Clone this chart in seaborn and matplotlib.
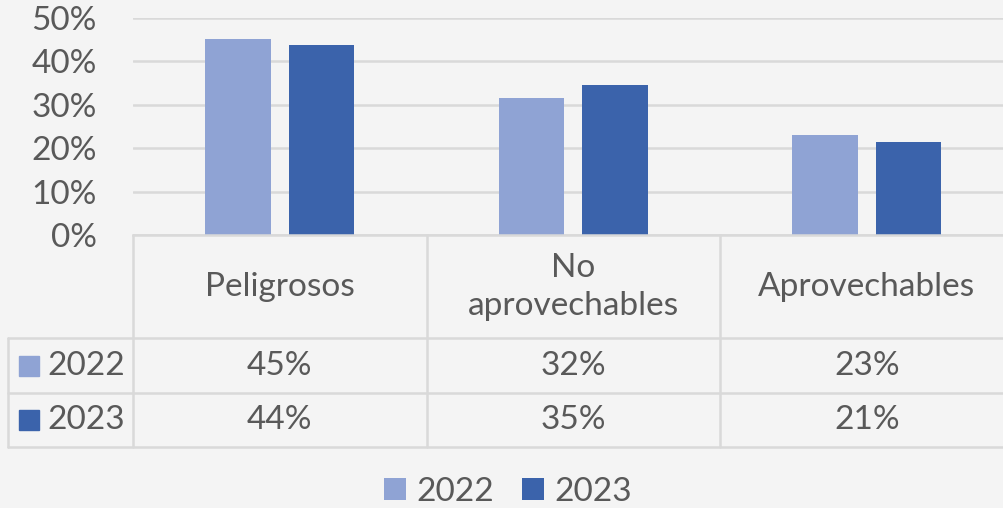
import matplotlib

matplotlib.use("Agg")
import matplotlib.pyplot as plt
import matplotlib.transforms as mtransforms
from matplotlib.patches import Patch
from matplotlib.ticker import PercentFormatter
import pandas as pd
import seaborn as sns

# data
categories = ["Peligrosos", "No\naprovechables", "Aprovechables"]
years = ["2022", "2023"]
values_2022 = [0.452, 0.316, 0.231]
values_2023 = [0.438, 0.346, 0.214]
colors = {"2022": "#8FA3D4", "2023": "#3B63AB"}

TEXT = "#595959"
GRID = "#D9D9D9"
BG = "#F4F4F4"

df = pd.DataFrame({
    "category": categories * 2,
    "year": [years[0]] * 3 + [years[1]] * 3,
    "value": values_2022 + values_2023,
})

sns.set_theme(style="white")
plt.rcParams["font.family"] = ["Lato", "DejaVu Sans"]
FS = 24

W, H = 1004, 508
fig = plt.figure(figsize=(W / 100, H / 100), dpi=100, facecolor=BG)
# plot area in pixels: left 133, top 18, bottom 235, category width 293.5
ax = fig.add_axes([133 / W, (H - 235) / H, 880.5 / W, 217 / H])
ax.set_facecolor(BG)

sns.barplot(data=df, x="category", y="value", hue="year", palette=colors,
            saturation=1, width=0.568, gap=0.218, linewidth=0, ax=ax,
            legend=False)

ax.set_xlim(-0.5, 2.5)
ax.set_ylim(0, 0.5)
ax.set_yticks([0, 0.1, 0.2, 0.3, 0.4, 0.5])
ax.yaxis.set_major_formatter(PercentFormatter(1.0, decimals=0))
ax.tick_params(axis="y", length=0, pad=26, labelsize=FS, labelcolor=TEXT)
ax.set_xticks([])
ax.set_xlabel("")
ax.set_ylabel("")
ax.grid(axis="y", color=GRID, linewidth=1.8)
ax.set_axisbelow(True)
for side in ["top", "right", "left"]:
    ax.spines[side].set_visible(False)
ax.spines["bottom"].set_color(GRID)
ax.spines["bottom"].set_linewidth(1.8)

# data table under the axis
trans = mtransforms.blended_transform_factory(ax.transData, ax.transAxes)


def fy(py):
    return (235 - py) / 217


def dx(px):
    return -0.5 + (px - 133) / 293.5


y_head, y_r1, y_r2 = fy(338), fy(393), fy(447)
x_left = dx(8)
line_kw = dict(color=GRID, linewidth=1.8, transform=trans, clip_on=False)
for xb in [-0.5, 0.5, 1.5]:
    ax.plot([xb, xb], [0, y_r2], **line_kw)
ax.plot([x_left, x_left], [y_head, y_r2], **line_kw)
for yb in [y_head, y_r1, y_r2]:
    ax.plot([x_left, 2.5], [yb, yb], **line_kw)

for i, cat in enumerate(categories):
    ax.text(i, fy(287), cat, ha="center", va="center", fontsize=FS,
            color=TEXT, linespacing=1.3, transform=trans)

rows = [(years[0], values_2022, fy(366)), (years[1], values_2023, fy(420))]
for yr, vals, yc in rows:
    ax.plot([dx(29)], [yc], marker="s", markersize=15, color=colors[yr],
            linestyle="none", transform=trans, clip_on=False)
    ax.text(dx(47), yc, yr, ha="left", va="center", fontsize=FS,
            color=TEXT, transform=trans)
    for i, v in enumerate(vals):
        ax.text(i, yc, f"{v:.0%}", ha="center", va="center", fontsize=FS,
                color=TEXT, transform=trans)

handles = [Patch(facecolor=colors[y], edgecolor="none", label=y) for y in years]
fig.legend(handles=handles, loc="center", bbox_to_anchor=(508 / W, (H - 492) / H),
           ncol=2, frameon=False, fontsize=FS, labelcolor=TEXT,
           handlelength=0.65, handleheight=0.65, handletextpad=0.3,
           columnspacing=0.85)

fig.savefig("out.png", dpi=100, facecolor=BG)
